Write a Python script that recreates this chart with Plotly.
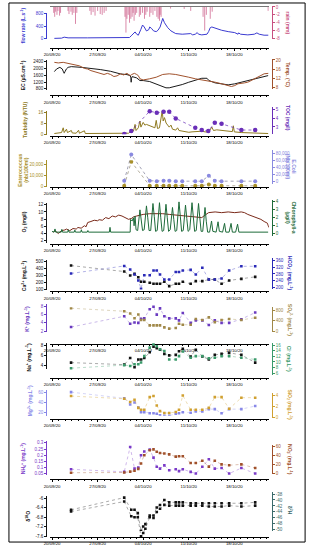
import pandas as pd
import plotly.graph_objects as go

W, H = 310, 550
START = pd.Timestamp("2020-09-20")
FONT = "Liberation Sans, Arial, sans-serif"

# ---------------- data ----------------
# continuous records: day offsets from 20/09/20 00:00
flow_days = [0.35, 1.46, 1.86, 2.46, 5.47, 7.98, 8.99, 9.99, 11.9, 12.15, 12.5, 12.75, 13.0, 13.25, 13.65,
             13.9, 14.16, 14.5, 14.86, 15.0, 15.26, 15.6, 16.0, 16.27, 16.6, 16.87, 17.0, 17.27, 17.77, 18.27,
             19.0, 20.0, 21.0, 21.3, 21.6, 22.0, 22.3, 22.5, 23.0, 23.8, 24.05, 24.3, 24.55, 25.05, 26.05,
             27.06, 28.06, 28.57, 28.66, 28.96, 30.07, 31.07, 31.47, 31.82, 32.57, 33.23]
flow_vals = [5, 12, 44, 22, 22, 22, 44, 33, 33, 86, 182, 214, 140, 108, 300,
             438, 374, 246, 288, 374, 332, 246, 224, 268, 374, 620, 652, 512, 352, 246,
             160, 140, 140, 160, 118, 140, 192, 140, 118, 140, 224, 352, 374, 332, 268,
             224, 192, 140, 182, 140, 118, 140, 182, 140, 108, 108]

rain_days = [0.25, 0.4, 0.55, 0.75, 0.9, 1.15, 1.3,
             2.45, 2.6, 2.9, 3.1, 3.35, 3.6, 3.8,
             5.8, 6.0, 6.3, 6.6, 7.0, 7.4, 7.7, 8.0, 8.3,
             11.2, 11.35, 11.5, 11.7, 11.9, 12.1, 12.3, 12.45, 12.6, 12.8,
             13.0, 13.4, 13.6, 13.9, 14.2, 14.4, 14.6, 15.0, 15.2, 15.5, 15.8,
             16.1, 16.3, 16.5, 16.6, 16.75, 18.2, 20.3, 21.3,
             23.2, 23.45, 23.7, 24.3, 24.6, 33.2]
rain_mm = [1.5, 2.5, 1.2, 2.0, 1.0, 2.2, 1.5,
           1.0, 1.8, 1.2, 2.0, 1.5, 4.3, 1.5,
           1.0, 2.0, 1.3, 2.2, 1.0, 1.8, 2.0, 1.5, 1.0,
           2.5, 6.5, 3.0, 2.0, 4.0, 3.0, 2.5, 1.5, 3.5, 2.0,
           1.5, 2.5, 2.0, 1.5, 3.0, 2.0, 1.2, 2.5, 1.5, 2.0, 1.0,
           2.5, 3.0, 3.5, 2.0, 2.5, 0.4, 0.5, 1.0,
           2.5, 6.0, 2.0, 3.0, 1.2, 1.0]

ec_days = [0.35, 0.7, 1.2, 1.56, 1.75, 1.86, 1.97, 2.2, 2.46, 2.96, 4.47, 5.97, 7.48, 8.99, 10.49,
           11.5, 12.0, 12.1, 12.15, 12.2, 12.3, 12.75, 13.0, 13.5, 14.0, 15.0, 16.0, 17.0, 17.5, 18.0,
           19.0, 20.0, 21.0, 22.0, 23.0, 23.8, 24.1, 25.05, 26.05, 27.06, 28.06, 29.07, 30.07, 31.07, 32.1, 33.2]
ec_vals = [1814, 1972, 2066, 1972, 1800, 1714, 1800, 1972, 2066, 2107, 2066, 2007, 1931, 1832, 1679,
           1638, 1580, 1450, 1187, 1400, 1521, 1482, 1443, 1287, 1287, 1228, 1092, 935, 859, 859,
           935, 1052, 1187, 1326, 1421, 1421, 1287, 1150, 1092, 1033, 1092, 1187, 1287, 1384, 1482, 1580]

temp_days = [0.35, 0.95, 1.71, 2.46, 2.96, 3.46, 4.22, 4.97, 5.47, 5.97, 6.73, 7.48, 7.98, 8.49, 8.99,
             9.49, 9.99, 10.49, 11.0, 11.5, 12.0, 12.25, 12.65, 13.0, 13.25, 13.5, 14.0, 15.0, 16.0, 17.0,
             18.0, 19.0, 20.0, 21.0, 22.0, 23.0, 24.05, 25.05, 26.05, 27.06, 27.56, 28.06, 28.57, 29.57, 30.07,
             30.57, 31.58, 32.58, 33.23]
temp_vals = [18.96, 18.7, 18.96, 18.5, 18.2, 18.2, 17.4, 16.3, 16.0, 15.3, 14.6, 13.9, 13.6, 14.1, 13.6,
             12.7, 13.0, 13.9, 13.4, 14.1, 13.1, 13.6, 14.1, 13.6, 13.1, 11.7, 11.2, 11.7, 12.4, 13.6,
             13.9, 13.6, 13.1, 12.4, 11.7, 11.2, 10.9, 10.2, 9.5, 8.7, 8.3, 8.7, 9.5, 9.9, 10.2,
             10.9, 12.4, 13.9, 14.1]

turb_days = [0.35, 0.95, 1.46, 1.71, 1.86, 2.21, 2.36, 2.96, 3.1, 3.7, 4.07, 4.2, 4.97, 5.1, 5.97,
             7.98, 8.99, 9.99, 11.0, 11.75, 12.0, 12.25, 12.5, 12.75, 12.9, 13.25, 13.5, 13.65, 14.0, 14.25,
             14.5, 15.0, 15.5, 15.8, 16.0, 16.2, 16.5, 16.8, 16.92, 17.07, 17.27, 17.52, 18.0, 18.27, 18.5,
             19.0, 19.28, 19.5, 20.0, 20.5, 21.0, 21.5, 22.0, 22.5, 23.0, 23.5, 24.05, 24.55, 24.8, 25.3,
             26.05, 27.06, 27.7, 27.85, 28.0, 29.07, 30.07, 31.07, 32.1, 33.2]
turb_vals = [0.8, 1.0, 1.5, 5.0, 1.5, 4.0, 1.5, 3.0, 1.2, 1.0, 3.2, 1.0, 2.8, 0.8, 0.8,
             0.7, 0.8, 0.6, 0.8, 1.0, 2.0, 4.0, 2.5, 7.5, 3.0, 5.0, 10.0, 5.5, 9.0, 7.0,
             7.5, 6.5, 6.0, 5.0, 10.5, 4.5, 5.0, 12.0, 17.5, 10.0, 12.5, 8.5, 5.5, 7.0, 4.0,
             3.3, 5.0, 3.0, 2.5, 2.0, 1.7, 2.0, 2.2, 2.5, 2.5, 2.0, 1.8, 5.5, 3.0, 3.5,
             3.0, 2.5, 2.2, 6.5, 2.0, 1.5, 1.2, 1.0, 1.0, 0.8]

o2_days = [0.2, 0.45, 0.95, 1.46, 1.96, 2.21, 2.71, 3.21, 3.71, 3.97, 4.47, 4.97, 5.22, 5.47, 5.97,
           6.48, 6.98, 7.23, 7.73, 8.23, 8.73, 9.24, 9.74, 10.24, 10.74, 11.25, 11.75, 12.25, 12.5, 13.0,
           14.0, 15.0, 16.0, 17.0, 18.0, 19.0, 20.0, 21.0, 22.0, 23.0, 23.5, 24.05, 25.05, 26.05, 27.06,
           28.06, 29.07, 29.57, 30.07, 31.07, 32.08, 32.58, 33.09, 33.3]
o2_vals = [4.2, 4.7, 3.9, 4.7, 4.9, 5.15, 4.7, 5.3, 5.15, 5.6, 5.4, 6.1, 5.8, 7.0, 7.3,
           7.65, 7.5, 7.8, 7.65, 8.4, 8.1, 8.85, 8.6, 9.1, 8.85, 8.4, 7.9, 8.2, 8.6, 8.85,
           9.3, 9.5, 9.6, 9.5, 9.3, 9.1, 8.85, 8.7, 8.6, 8.4, 9.1, 9.8, 10.0, 9.8, 10.0,
           9.8, 10.0, 9.8, 9.3, 8.6, 7.9, 7.3, 6.8, 5.6]

chl_days = [0.0, 0.3, 0.45, 0.55, 1.4, 1.5, 1.6, 2.4, 2.5, 2.6, 3.4, 3.5, 3.6, 4.4, 4.5, 4.6, 5.4, 5.5, 5.6,
            8.8, 8.9, 9.0, 12.0, 12.05, 12.3, 12.5, 12.6, 12.75, 12.9,
            13.15, 13.5, 13.7, 13.9, 14.15, 14.5, 14.7, 14.9, 15.15, 15.5, 15.7, 15.9,
            16.15, 16.5, 16.7, 16.9, 17.15, 17.5, 17.7, 17.9, 18.15, 18.5, 18.7, 18.9,
            19.15, 19.5, 19.7, 19.9, 20.15, 20.5, 20.7, 20.9, 21.15, 21.5, 21.7, 21.9,
            22.15, 22.5, 22.7, 22.9, 23.15, 23.5, 23.7, 23.9,
            24.2, 24.5, 24.7, 25.2, 25.5, 25.7, 26.2, 26.5, 26.7, 27.2, 27.5, 27.7, 28.2, 28.5, 28.7,
            29.0, 33.2]
chl_vals = [0.3, 0.2, 0.6, 0.2, 0.2, 0.55, 0.2, 0.2, 0.5, 0.2, 0.2, 0.45, 0.2, 0.2, 0.5, 0.2, 0.2, 0.4, 0.2,
            0.2, 0.8, 0.2, 0.2, 1.8, 1.6, 2.0, 1.0, 2.2, 0.5,
            0.4, 3.0, 1.9, 0.4, 0.5, 3.5, 2.0, 0.4, 0.4, 3.8, 2.2, 0.3,
            0.4, 3.9, 2.0, 0.3, 0.4, 3.7, 2.0, 0.3, 0.5, 3.3, 1.8, 0.3,
            0.4, 4.0, 2.2, 0.3, 0.4, 3.6, 1.9, 0.3, 0.5, 3.9, 2.1, 0.3,
            0.4, 3.8, 2.0, 0.3, 0.3, 3.3, 1.5, 0.2,
            0.2, 1.6, 0.3, 0.2, 1.5, 0.3, 0.2, 1.3, 0.2, 0.2, 1.3, 0.2, 0.2, 1.2, 0.2,
            0.2, 0.2]

# discrete samples
toc_dates = ["2020-10-01 02:00", "2020-10-02 04:00", "2020-10-05 00:00", "2020-10-06 02:00", "2020-10-07 03:00",
             "2020-10-08 00:00", "2020-10-09 00:00", "2020-10-12 00:00", "2020-10-13 00:00", "2020-10-14 00:00",
             "2020-10-15 00:00", "2020-10-16 01:00", "2020-10-19 02:00", "2020-10-21 05:00"]
toc_vals = [2.2, 2.54, 4.83, 4.64, 4.75, 4.75, 3.99, 2.9, 2.65, 2.54, 3.48, 3.37, 2.65, 2.65]

bact_dates = ["2020-10-01 02:00", "2020-10-02 04:00", "2020-10-05 00:00", "2020-10-06 02:00", "2020-10-07 03:00",
              "2020-10-08 00:00", "2020-10-09 00:00", "2020-10-10 00:00", "2020-10-12 00:00", "2020-10-13 00:00",
              "2020-10-14 02:00", "2020-10-15 00:00", "2020-10-16 01:00", "2020-10-19 02:00", "2020-10-21 05:00"]
ecoli_vals = [2500, 76000, 2500, 1500, 2500, 2500, 1500, 1500, 1500, 1500, 17000, 2500, 1500, 1500, 1500]
entero_vals = [300, 22500, 300, 200, 300, 200, 200, 200, 200, 300, 1500, 300, 200, 200, 200]

sample_dates = ["2020-09-22 22:00", "2020-10-01 02:00", "2020-10-02 00:00", "2020-10-02 16:00", "2020-10-03 06:00",
                "2020-10-03 16:00", "2020-10-04 04:00", "2020-10-05 00:00", "2020-10-05 14:00", "2020-10-06 02:00",
                "2020-10-06 14:00", "2020-10-07 06:00", "2020-10-08 00:00", "2020-10-09 00:00", "2020-10-09 12:00",
                "2020-10-10 02:00", "2020-10-11 07:00", "2020-10-12 02:00", "2020-10-13 02:00", "2020-10-14 02:00",
                "2020-10-15 00:00", "2020-10-16 01:00", "2020-10-17 05:00", "2020-10-19 02:00", "2020-10-21 05:00"]
ca_vals = [443, 357, 300, 324, 276, 210, 210, 195, 181, 181, 181, 210, 148, 181, 181, 210, 181, 219, 219, 243,
           243, 181, 229, 252, 281]
hco3_vals = [283, 327, 306, 277, 242, 194, 273, 273, 300, 300, 277, 248, 248, 292, 292, 300, 304, 277, 316, 248,
             248, 254, 300, 325, 325]
k_vals = [3.0, 5.6, 3.8, 4.1, 4.0, 5.0, 5.1, 7.3, 7.9, 6.0, 7.5, 5.6, 5.1, 5.1, 4.6, 6.4, 4.0, 4.6, 4.6, 3.5,
          4.6, 4.0, 4.0, 4.9, 6.5]
so4_vals = [880, 763, 678, 494, 641, 431, 431, 221, 221, 221, 221, 148, 100, 125, 284, 247, 247, 468, 431, 530,
            346, 431, 468, 431, 516]
na_vals = [4.6, 4.2, 5.5, 3.7, 5.2, 5.2, 5.5, 6.6, 7.7, 7.4, 7.1, 6.3, 6.0, 6.1, 6.8, 7.3, 5.8, 7.1, 5.8, 5.2,
           6.1, 6.3, 6.5, 6.1, 4.6]
cl_vals = [7.8, 8.9, 8.6, 9.2, 9.2, 9.8, 12.1, 15.1, 16.2, 15.6, 14.5, 13.9, 10.9, 10.9, 12.1, 13.7, 11.5, 12.1,
           12.1, 11.3, 11.5, 12.1, 12.1, 11.5, 10.9]
mg_vals = [60, 48, 36, 40, 30, 21, 21, 19, 19, 18, 15, 14, 14, 18, 19, 21, 20, 22.5, 22.5, 27, 27, 19, 27, 27, 33]
sio2_vals = [3.9, 3.4, 2.8, 3.2, 1.7, 1.35, 1.35, 3.7, 3.9, 2.15, 1.1, 0.74, 0.74, 0.93, 1.35, 4.0, 1.35, 1.35,
             1.35, 1.7, 3.7, 3.7, 1.54, 3.6, 3.6]
nh4_vals = [0.085, 0.064, 0.267, 0.09, 0.1, 0.2, 0.23, 0.245, 0.18, 0.105, 0.09, 0.117, 0.077, 0.085, 0.07,
            0.085, 0.064, 0.05, 0.105, 0.167, 0.09, 0.095, 0.05, 0.095, 0.05]
no3_vals = [1.5, 2, 4, 6, 10, 22, 40, 51, 53, 48, 45, 44, 42, 37, 38, 38, 23, 23, 28, 15, 28, 20, 18, 20, 12]

iso_dates = ["2020-09-22 22:00", "2020-10-01 02:00", "2020-10-02 04:00", "2020-10-02 16:00", "2020-10-03 04:00",
             "2020-10-03 16:00", "2020-10-04 00:00", "2020-10-04 08:00", "2020-10-05 00:00", "2020-10-05 14:00",
             "2020-10-06 02:00", "2020-10-06 14:00", "2020-10-07 06:00", "2020-10-08 00:00", "2020-10-09 00:00",
             "2020-10-09 12:00", "2020-10-10 02:00", "2020-10-11 07:00", "2020-10-12 02:00", "2020-10-13 02:00",
             "2020-10-14 02:00", "2020-10-15 00:00", "2020-10-16 01:00", "2020-10-17 05:00", "2020-10-19 02:00",
             "2020-10-21 05:00"]
d18o_vals = [-6.56, -6.14, -6.76, -6.80, -6.80, -7.60, -7.46, -7.28, -6.80, -6.83, -6.58, -6.44, -6.28, -6.31,
             -6.31, -6.31, -6.31, -6.31, -6.31, -6.31, -6.35, -6.35, -6.35, -6.31, -6.35, -6.31]
d2h_vals = [-43.3, -39.2, -43.3, -43.3, -44.4, -50.3, -48.9, -48.1, -45.2, -45.2, -42.5, -41.7, -40.0, -40.8,
            -40.8, -40.8, -40.8, -41.1, -41.1, -41.1, -41.1, -41.1, -41.1, -41.1, -41.1, -40.8]

date_tick_format = "%d/%m/%y"

# ---------------- helpers ----------------
def t(days):
    return [START + pd.Timedelta(days=d) for d in days]


def ydom(top, bot):
    return [1 - bot / H, 1 - top / H]


XL, XR = 45, 268
YL_POS, YR_POS = 41, 271
X_RANGE = [START - pd.Timedelta(days=0.3), START + pd.Timedelta(days=33.3)]

C = dict(flow="#3b3bd0", rain="#c85080", ec="#1a1a1a", temp="#a0522d", turb="#8f7a22", toc="#6a2fb8",
         ent="#a8902a", eco="#8a8ae0", o2="#7a2a1a", chl="#1e6b3a", ca="#111111", hco3="#2a2ab8",
         k="#6a3ac0", so4="#a08848", na="#111111", cl="#3a9a6a", mg="#8888e8", sio2="#d0a030",
         nh4="#7a3ac8", no3="#a0502a", d18="#111111", d2h="#3a6a6a")

layout = {}
xlines = [47, 95, 136, 187, 244, 292, 344.5, 379, 420, 481, 539]
for i, yl in enumerate(xlines):
    key = "xaxis" if i == 0 else f"xaxis{i + 1}"
    layout[key] = dict(domain=[XL / W, XR / W], anchor="free", position=1 - yl / H, range=X_RANGE, type="date",
                       showline=True, linecolor="black", linewidth=1, ticks="outside", ticklen=2, tickwidth=0.8,
                       tickcolor="black", tickformat=date_tick_format, tick0="2020-09-20", dtick=7 * 86400000,
                       tickfont=dict(size=4.3, color="black", family=FONT), showgrid=False, zeroline=False,
                       minor=dict(dtick=86400000, ticklen=1, tickcolor="black", ticks="outside", showgrid=False))

# (side, top px, bottom px, range, tickvals, ticktext, color)
yspecs = [
    ("left", 12, 38.5, [-25, 830], [0, 400, 800], None, C["flow"]),
    ("right", 5, 38.5, [-8.2, 0.25], [0, -2, -4, -6, -8], ["0", "-2", "-4", "-6", "-8"], C["rain"]),
    ("left", 59, 89, [759, 2517], [800, 1200, 1600, 2000, 2400], None, C["ec"]),
    ("right", 58, 88, [7.41, 20.57], [8, 12, 16, 20], None, C["temp"]),
    ("left", 111, 135, [-0.5, 17.1], [0, 8, 16], None, C["turb"]),
    ("right", 107, 134, [2.16, 5.26], [3, 4, 5], None, C["toc"]),
    ("left", 160, 187, [-900, 24000], [0, 10000, 20000], None, C["ent"]),
    ("right", 150, 184, [-6400, 88350], [0, 20000, 40000, 60000, 80000], None, C["eco"]),
    ("left", 203, 243, [1.3, 12.56], [2, 4, 6, 8, 10, 12], None, C["ec"]),
    ("right", 200, 236, [-0.25, 4.25], [0, 1, 2, 3, 4], None, C["chl"]),
    ("left", 260, 291, [86, 529], [100, 200, 300, 400, 500], None, C["ca"]),
    ("right", 258, 290, [190, 375.7], [200, 240, 280, 320, 360], None, C["hco3"]),
    ("left", 305, 333, [1.76, 8.48], [2, 4, 6, 8], None, C["k"]),
    ("right", 308, 333, [-38, 914], [0, 400, 800], None, C["so4"]),
    ("left", 344, 370, [3.36, 8.39], [4, 6, 8], None, C["na"]),
    ("right", 344, 376, [5.4, 16.7], [6, 8, 10, 12, 14, 16], None, C["cl"]),
    ("left", 391, 417, [14.2, 64.4], [20, 40, 60], None, C["mg"]),
    ("right", 394, 419, [-0.13, 4.5], [0, 2, 4], None, C["sio2"]),
    ("left", 442, 477, [0.035, 0.319], [0.05, 0.1, 0.15, 0.2, 0.25, 0.3],
     ["0.05", "0.1", "0.15", "0.2", "0.25", "0.3"], C["nh4"]),
    ("right", 446, 476, [-2.2, 63.7], [0, 20, 40, 60], None, C["no3"]),
    ("left", 498, 539, [-7.63, -5.92], [-7.6, -7.2, -6.8, -6.4, -6],
     ["-7.6", "-7.2", "-6.8", "-6.4", "-6"], C["d18"]),
    ("right", 494, 533, [-50.43, -37.43], [-50, -48, -46, -44, -42, -40, -38],
     ["-50", "-48", "-46", "-44", "-42", "-40", "-38"], C["d2h"]),
]
for j, (side, top, bot, rng, tv, tt, col) in enumerate(yspecs):
    key = "yaxis" if j == 0 else f"yaxis{j + 1}"
    ax = dict(domain=ydom(top, bot), anchor="free", side=side,
              position=(YL_POS if side == "left" else YR_POS) / W, range=rng,
              showline=True, linecolor=col, linewidth=1, ticks="outside", ticklen=2, tickwidth=0.8,
              tickcolor=col, tickvals=tv, tickfont=dict(size=4.5, color=col, family=FONT),
              showgrid=False, zeroline=False, exponentformat="none", separatethousands=False)
    if tt is not None:
        ax["ticktext"] = tt
    layout[key] = ax
# zero line on the rain axis (top of panel)
layout["yaxis2"].update(zeroline=True, zerolinecolor="#777777", zerolinewidth=0.7)


def xa(i):
    return "x" if i == 1 else f"x{i}"


def ya(j):
    return "y" if j == 1 else f"y{j}"


def light(hexcol, a=0.6):
    h = hexcol.lstrip("#")
    r, g, b = int(h[0:2], 16), int(h[2:4], 16), int(h[4:6], 16)
    return f"rgba({r},{g},{b},{a})"


fig = go.Figure()

# panel 1: rain (hanging sticks from 0, one per record) + flow
rain_x, rain_y = [], []
for ts, v in zip(t(rain_days), rain_mm):
    rain_x += [ts, ts, None]
    rain_y += [0, -v, None]
fig.add_trace(go.Scatter(x=rain_x, y=rain_y, mode="lines", line=dict(color="rgba(200,80,128,0.85)", width=0.8),
                         connectgaps=False, xaxis=xa(1), yaxis=ya(2)))
fig.add_trace(go.Scatter(x=t(flow_days), y=flow_vals, mode="lines", line=dict(color=C["flow"], width=1),
                         xaxis=xa(1), yaxis=ya(1)))
# panel 2: EC + temp
fig.add_trace(go.Scatter(x=t(temp_days), y=temp_vals, mode="lines", line=dict(color=C["temp"], width=1),
                         xaxis=xa(2), yaxis=ya(4)))
fig.add_trace(go.Scatter(x=t(ec_days), y=ec_vals, mode="lines", line=dict(color=C["ec"], width=1),
                         xaxis=xa(2), yaxis=ya(3)))
# panel 3: turbidity + TOC
fig.add_trace(go.Scatter(x=t(turb_days), y=turb_vals, mode="lines", line=dict(color=C["turb"], width=1),
                         xaxis=xa(3), yaxis=ya(5)))
fig.add_trace(go.Scatter(x=toc_dates, y=toc_vals, mode="lines+markers",
                         line=dict(color=light(C["toc"], 0.8), width=0.9, dash="dot"),
                         marker=dict(color=C["toc"], size=4.5), xaxis=xa(3), yaxis=ya(6)))
# panel 4: bacteria
fig.add_trace(go.Scatter(x=bact_dates, y=ecoli_vals, mode="lines+markers",
                         line=dict(color="rgba(110,110,140,0.8)", width=0.8, dash="dot"),
                         marker=dict(color=C["eco"], size=4), xaxis=xa(4), yaxis=ya(8)))
fig.add_trace(go.Scatter(x=bact_dates, y=entero_vals, mode="lines+markers",
                         line=dict(color="rgba(120,110,80,0.7)", width=0.8, dash="dot"),
                         marker=dict(color=C["ent"], size=4), xaxis=xa(4), yaxis=ya(7)))
# panel 5: chlorophyll + O2
fig.add_trace(go.Scatter(x=t(chl_days), y=chl_vals, mode="lines", line=dict(color=C["chl"], width=1),
                         xaxis=xa(5), yaxis=ya(10)))
fig.add_trace(go.Scatter(x=t(o2_days), y=o2_vals, mode="lines", line=dict(color=C["o2"], width=1),
                         xaxis=xa(5), yaxis=ya(9)))

# ion panels
ion_series = [
    (6, 11, ca_vals, C["ca"], sample_dates), (6, 12, hco3_vals, C["hco3"], sample_dates),
    (7, 13, k_vals, C["k"], sample_dates), (7, 14, so4_vals, C["so4"], sample_dates),
    (8, 15, na_vals, C["na"], sample_dates), (8, 16, cl_vals, C["cl"], sample_dates),
    (9, 17, mg_vals, C["mg"], sample_dates), (9, 18, sio2_vals, C["sio2"], sample_dates),
    (10, 19, nh4_vals, C["nh4"], sample_dates), (10, 20, no3_vals, C["no3"], sample_dates),
    (11, 21, d18o_vals, C["d18"], iso_dates), (11, 22, d2h_vals, C["d18"], iso_dates),
]
for xi, yj, vals, col, dts in ion_series:
    fig.add_trace(go.Scatter(x=dts, y=vals, mode="lines+markers",
                             line=dict(color=light(col, 0.45), width=0.8, dash="dot"),
                             marker=dict(color=col, size=2.6, symbol="square"),
                             xaxis=xa(xi), yaxis=ya(yj)))

# axis titles as rotated annotations: (text, x px, y px, angle, color)
titles = [
    ("<b>flow rate (L.s<sup>-1</sup>)</b>", 17, 25, -90, C["flow"]),
    ("<b>rain (mm)</b>", 288, 22, 90, C["rain"]),
    ("<b>EC (µS.cm<sup>-1</sup>)</b>", 17, 75, -90, C["ec"]),
    ("<b>Temp. (°C)</b>", 288, 74, 90, C["temp"]),
    ("<b>Turbidity (NTU)</b>", 20, 120, -90, C["turb"]),
    ("<b>TOC (mg/l)</b>", 287, 118, 90, C["toc"]),
    ("<b>Enterococcus<br>(nb/100ml)</b>", 17, 170, -90, C["ent"]),
    ("<b>E.Coli<br>(Nb/100ml)</b>", 291, 167, 90, C["eco"]),
    ("<b>O<sub>2</sub> (mg/l)</b>", 19, 222, -90, C["ec"]),
    ("<b>Chlorophyll-a<br>(µg/l)</b>", 290, 218, 90, C["chl"]),
    ("<b>Ca<sup>2+</sup> (mg.L<sup>-1</sup>)</b>", 19, 276, -90, C["ca"]),
    ("<b>HCO<sub>3</sub><sup>-</sup> (mg.L<sup>-1</sup>)</b>", 289, 274, 90, C["hco3"]),
    ("<b>K<sup>+</sup> (mg.L<sup>-1</sup>)</b>", 22, 320, -90, C["k"]),
    ("<b>SO<sub>4</sub><sup>2-</sup> (mg.L<sup>-1</sup>)</b>", 289, 321, 90, C["so4"]),
    ("<b>Na<sup>+</sup> (mg.L<sup>-1</sup>)</b>", 23, 358, -90, C["na"]),
    ("<b>Cl<sup>-</sup> (mg.L<sup>-1</sup>)</b>", 289, 360, 90, C["cl"]),
    ("<b>Mg<sup>2+</sup> (mg.L<sup>-1</sup>)</b>", 24, 402, -90, C["mg"]),
    ("<b>SiO<sub>2</sub> (mg.L<sup>-1</sup>)</b>", 289, 406, 90, C["sio2"]),
    ("<b>NH<sub>4</sub><sup>+</sup> (mg.L<sup>-1</sup>)</b>", 18, 460, -90, C["nh4"]),
    ("<b>NO<sub>3</sub><sup>-</sup> (mg.L<sup>-1</sup>)</b>", 289, 461, 90, C["no3"]),
    ("<b>δ<sup>18</sup>O</b>", 23, 518, -90, C["d18"]),
    ("<b>δ<sup>2</sup>H</b>", 289, 512, 90, C["d2h"]),
]
annotations = []
for txt, xp, yp, ang, col in titles:
    annotations.append(dict(text=txt, x=xp / W, y=1 - yp / H, xref="paper", yref="paper", showarrow=False,
                            textangle=ang, xanchor="center", yanchor="middle",
                            font=dict(size=5, color=col, family=FONT)))

layout.update(
    width=W, height=H, margin=dict(l=0, r=0, t=0, b=0), autosize=False,
    paper_bgcolor="white", plot_bgcolor="rgba(0,0,0,0)", showlegend=False,
    font=dict(family=FONT, size=5), annotations=annotations,
    shapes=[dict(type="rect", xref="paper", yref="paper", x0=3 / W, x1=305 / W, y0=1 - 544 / H, y1=1 - 2 / H,
                 line=dict(color="black", width=1))],
)
fig.update_layout(**layout)
fig.write_html("out.html", config={"displayModeBar": False},
               post_script="document.body.style.margin='0';document.documentElement.style.overflow='hidden';")
